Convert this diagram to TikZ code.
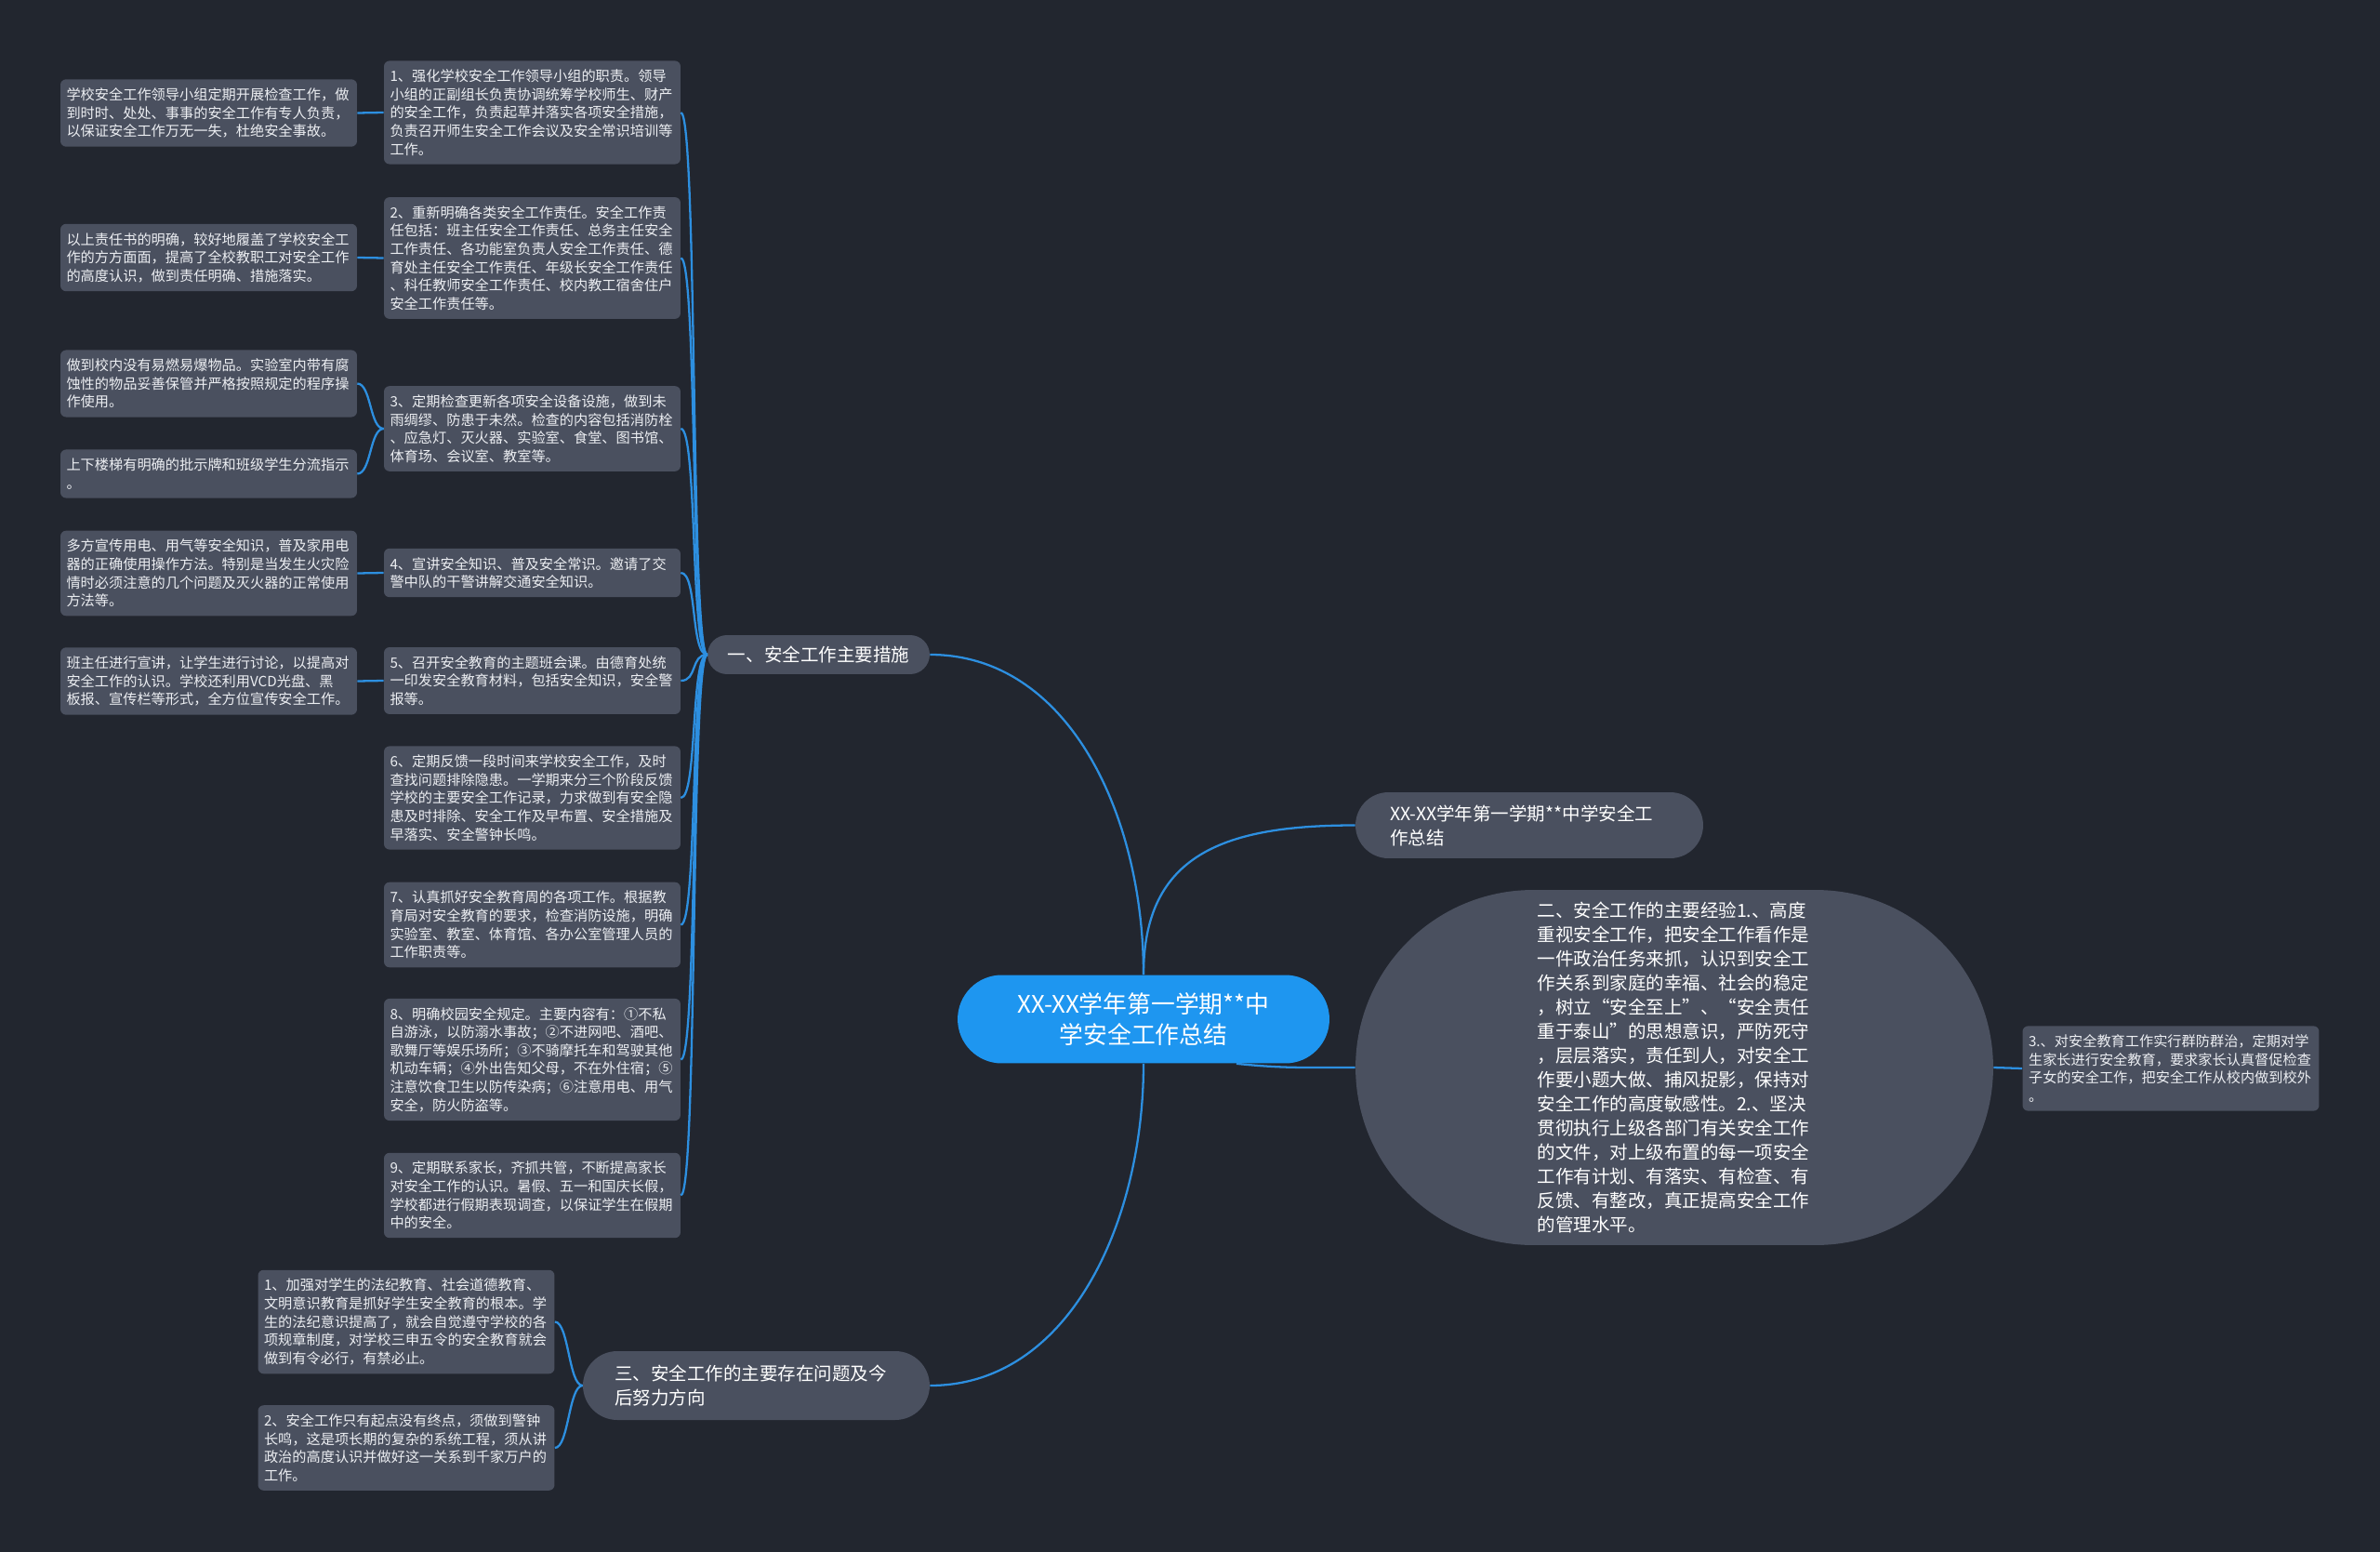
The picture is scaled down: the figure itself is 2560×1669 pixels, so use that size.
\documentclass[tikz,border=0pt]{standalone}
\usepackage{fontspec}
\setmainfont{Noto Sans CJK SC}
\usepackage{tikz}
\usetikzlibrary{shapes.misc}

\definecolor{bgnavy}{HTML}{22262F}
\definecolor{boxgray}{HTML}{4A505F}
\definecolor{rootblue}{HTML}{1E96F0}
\definecolor{linkblue}{HTML}{2D8FE0}
\definecolor{leaftext}{HTML}{ECEEF2}

\begin{document}
\begin{tikzpicture}[x=0.02cm, y=-0.02cm,
  leaf/.style={fill=boxgray, rounded corners=0.12cm, text=leaftext,
    font=\fontsize{8.65}{11.15}\selectfont, align=left,
    text width=6.12cm, inner xsep=0.13cm, inner ysep=5.3pt},
  branch/.style={rounded rectangle, fill=boxgray, text=white,
    font=\fontsize{11.1}{14.8}\selectfont, align=left, inner sep=0pt},
  link/.style={draw=linkblue, line width=1.3pt}]

  % Background
  \fill[bgnavy] (0,0) rectangle (2560,1669);
  \useasboundingbox (0,0) rectangle (2560,1669);

  % Root
  \node[rounded rectangle, fill=rootblue, text=white, inner sep=0pt,
        font=\fontsize{14.7}{18.8}\selectfont, align=center,
        minimum width=8cm, minimum height=1.9cm] (root) at (1230,1096)
        {XX-XX学年第一学期**中\\学安全工作总结};

  % Main branches
  \node[branch, align=center, minimum width=4.78cm, minimum height=0.84cm]
        (measure) at (880.5,704) {一、安全工作主要措施};
  \node[branch, text width=6cm, minimum width=7.48cm, minimum height=1.42cm]
        (sum) at (1645,887.5) {XX-XX学年第一学期**中学安全工\\作总结};
  \node[branch, text width=5.9cm, minimum width=13.72cm, minimum height=7.64cm]
        (exper) at (1801,1148) {二、安全工作的主要经验1.、高度\\
        重视安全工作，把安全工作看作是\\
        一件政治任务来抓，认识到安全工\\
        作关系到家庭的幸福、社会的稳定\\
        ，树立“安全至上”、“安全责任\\
        重于泰山”的思想意识，严防死守\\
        ，层层落实，责任到人，对安全工\\
        作要小题大做、捕风捉影，保持对\\
        安全工作的高度敏感性。2.、坚决\\
        贯彻执行上级各部门有关安全工作\\
        的文件，对上级布置的每一项安全\\
        工作有计划、有落实、有检查、有\\
        反馈、有整改，真正提高安全工作\\
        的管理水平。};
  \node[branch, text width=6.1cm, minimum width=7.46cm, minimum height=1.48cm]
        (issue) at (813.5,1490) {三、安全工作的主要存在问题及今\\后努力方向};

  % Measures (middle column)
  \node[leaf] (m1) at (572.5,121) {1、强化学校安全工作领导小组的职责。领导\\
    小组的正副组长负责协调统筹学校师生、财产\\
    的安全工作，负责起草并落实各项安全措施，\\
    负责召开师生安全工作会议及安全常识培训等\\
    工作。};
  \node[leaf] (m2) at (572.5,277.5) {2、重新明确各类安全工作责任。安全工作责\\
    任包括：班主任安全工作责任、总务主任安全\\
    工作责任、各功能室负责人安全工作责任、德\\
    育处主任安全工作责任、年级长安全工作责任\\
    、科任教师安全工作责任、校内教工宿舍住户\\
    安全工作责任等。};
  \node[leaf] (m3) at (572.5,461) {3、定期检查更新各项安全设备设施，做到未\\
    雨绸缪、防患于未然。检查的内容包括消防栓\\
    、应急灯、灭火器、实验室、食堂、图书馆、\\
    体育场、会议室、教室等。};
  \node[leaf] (m4) at (572.5,616) {4、宣讲安全知识、普及安全常识。邀请了交\\
    警中队的干警讲解交通安全知识。};
  \node[leaf] (m5) at (572.5,732) {5、召开安全教育的主题班会课。由德育处统\\
    一印发安全教育材料，包括安全知识，安全警\\
    报等。};
  \node[leaf] (m6) at (572.5,858) {6、定期反馈一段时间来学校安全工作，及时\\
    查找问题排除隐患。一学期来分三个阶段反馈\\
    学校的主要安全工作记录，力求做到有安全隐\\
    患及时排除、安全工作及早布置、安全措施及\\
    早落实、安全警钟长鸣。};
  \node[leaf] (m7) at (572.5,994.5) {7、认真抓好安全教育周的各项工作。根据教\\
    育局对安全教育的要求，检查消防设施，明确\\
    实验室、教室、体育馆、各办公室管理人员的\\
    工作职责等。};
  \node[leaf] (m8) at (572.5,1139.5) {8、明确校园安全规定。主要内容有：①不私\\
    自游泳，以防溺水事故；②不进网吧、酒吧、\\
    歌舞厅等娱乐场所；③不骑摩托车和驾驶其他\\
    机动车辆；④外出告知父母，不在外住宿；⑤\\
    注意饮食卫生以防传染病；⑥注意用电、用气\\
    安全，防火防盗等。};
  \node[leaf] (m9) at (572.5,1285.5) {9、定期联系家长，齐抓共管，不断提高家长\\
    对安全工作的认识。暑假、五一和国庆长假，\\
    学校都进行假期表现调查，以保证学生在假期\\
    中的安全。};

  % Notes (left column)
  \node[leaf] (n1) at (224.5,121.5) {学校安全工作领导小组定期开展检查工作，做\\
    到时时、处处、事事的安全工作有专人负责，\\
    以保证安全工作万无一失，杜绝安全事故。};
  \node[leaf] (n2) at (224.5,277) {以上责任书的明确，较好地履盖了学校安全工\\
    作的方方面面，提高了全校教职工对安全工作\\
    的高度认识，做到责任明确、措施落实。};
  \node[leaf] (n3a) at (224.5,412.5) {做到校内没有易燃易爆物品。实验室内带有腐\\
    蚀性的物品妥善保管并严格按照规定的程序操\\
    作使用。};
  \node[leaf] (n3b) at (224.5,509.5) {上下楼梯有明确的批示牌和班级学生分流指示\\
    。};
  \node[leaf] (n4) at (224.5,616.5) {多方宣传用电、用气等安全知识，普及家用电\\
    器的正确使用操作方法。特别是当发生火灾险\\
    情时必须注意的几个问题及灭火器的正常使用\\
    方法等。};
  \node[leaf] (n5) at (224.5,732.5) {班主任进行宣讲，让学生进行讨论，以提高对\\
    安全工作的认识。学校还利用VCD光盘、黑\\
    板报、宣传栏等形式，全方位宣传安全工作。};

  % Issues
  \node[leaf] (i1) at (437,1421.5) {1、加强对学生的法纪教育、社会道德教育、\\
    文明意识教育是抓好学生安全教育的根本。学\\
    生的法纪意识提高了，就会自觉遵守学校的各\\
    项规章制度，对学校三申五令的安全教育就会\\
    做到有令必行，有禁必止。};
  \node[leaf] (i2) at (437,1557) {2、安全工作只有起点没有终点，须做到警钟\\
    长鸣，这是项长期的复杂的系统工程，须从讲\\
    政治的高度认识并做好这一关系到千家万户的\\
    工作。};

  % Experience detail
  \node[leaf] (e1) at (2335,1149) {3.、对安全教育工作实行群防群治，定期对学\\
    生家长进行安全教育，要求家长认真督促检查\\
    子女的安全工作，把安全工作从校内做到校外\\
    。};

  % Root links
  \draw[link] (root.north) .. controls +(0,-170) and +(150,0) .. (measure.east);
  \draw[link] (root.north) .. controls +(0,-130) and +(-140,0) .. (sum.west);
  \draw[link] ([xshift=2cm]root.south) .. controls +(50,5) and +(-60,0) .. (exper.west);
  \draw[link] (root.south) .. controls +(0,170) and +(150,0) .. (issue.east);
  \draw[link] (exper.east) -- (e1.west);

  % Measure links
  \draw[link] (measure.west) .. controls +(-18,0) and +(18,0) .. (m1.east);
  \draw[link] (measure.west) .. controls +(-18,0) and +(18,0) .. (m2.east);
  \draw[link] (measure.west) .. controls +(-18,0) and +(18,0) .. (m3.east);
  \draw[link] (measure.west) .. controls +(-18,0) and +(18,0) .. (m4.east);
  \draw[link] (measure.west) .. controls +(-18,0) and +(18,0) .. (m5.east);
  \draw[link] (measure.west) .. controls +(-18,0) and +(18,0) .. (m6.east);
  \draw[link] (measure.west) .. controls +(-18,0) and +(18,0) .. (m7.east);
  \draw[link] (measure.west) .. controls +(-18,0) and +(18,0) .. (m8.east);
  \draw[link] (measure.west) .. controls +(-18,0) and +(18,0) .. (m9.east);

  % Note links
  \draw[link] (m1.west) -- (n1.east);
  \draw[link] (m2.west) -- (n2.east);
  \draw[link] (m3.west) .. controls +(-15,0) and +(15,0) .. (n3a.east);
  \draw[link] (m3.west) .. controls +(-15,0) and +(15,0) .. (n3b.east);
  \draw[link] (m4.west) -- (n4.east);
  \draw[link] (m5.west) -- (n5.east);

  % Issue links
  \draw[link] (issue.west) .. controls +(-15,0) and +(15,0) .. (i1.east);
  \draw[link] (issue.west) .. controls +(-15,0) and +(15,0) .. (i2.east);
\end{tikzpicture}
\end{document}
